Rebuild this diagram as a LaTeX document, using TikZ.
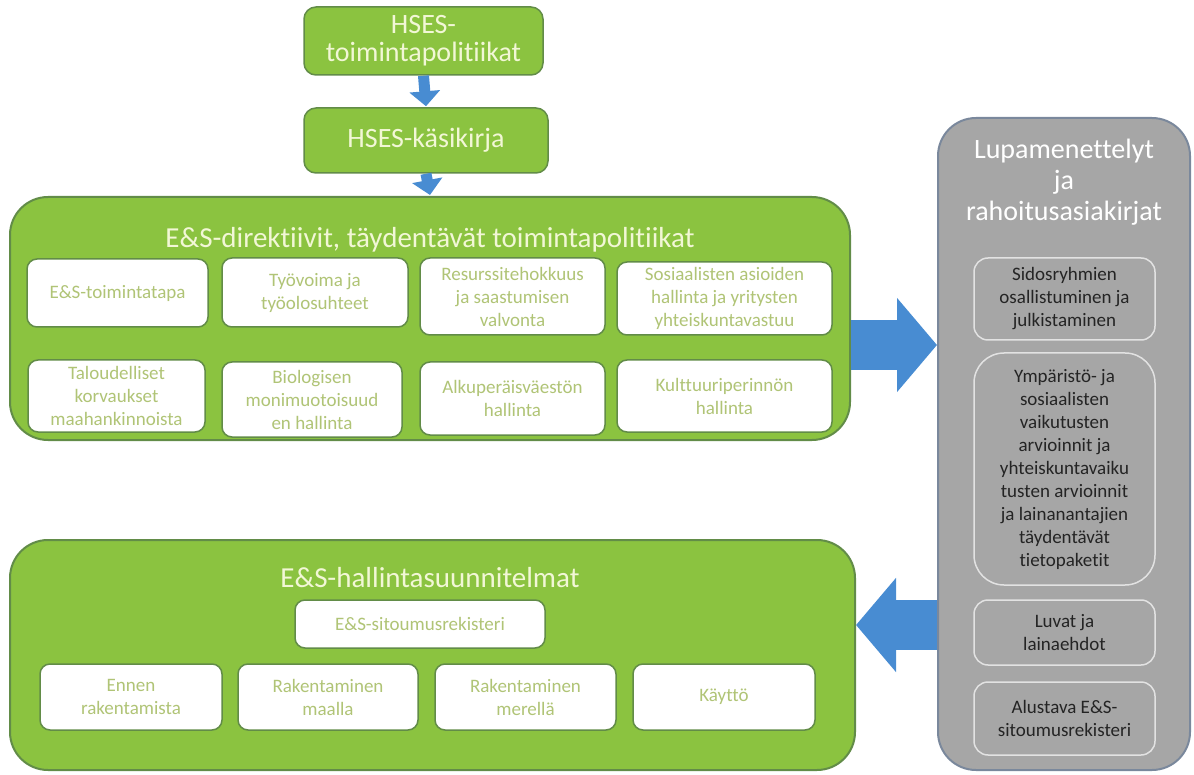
\documentclass[tikz,border=0pt]{standalone}
\usepackage{fontspec}
\setmainfont{Carlito}[Ligatures=NoCommon]
\usetikzlibrary{arrows.meta}
\definecolor{leaf}{RGB}{139,195,64}
\definecolor{leafedge}{RGB}{98,140,72}
\definecolor{cardtext}{RGB}{176,196,118}
\definecolor{titletext}{RGB}{242,247,214}
\definecolor{flow}{RGB}{72,140,210}
\definecolor{slate}{RGB}{166,166,166}
\definecolor{slateedge}{RGB}{122,136,156}
\definecolor{slateline}{RGB}{226,226,226}
\definecolor{slatetext}{RGB}{36,36,36}
\begin{document}
\begin{tikzpicture}[x=1pt,y=-1pt,
  headbox/.style={draw=leafedge, line width=1.5pt, fill=leaf, rounded corners=12pt,
    text=titletext, align=center, font=\fontsize{28}{28}\selectfont, inner sep=0pt},
  panel/.style={draw=leafedge, line width=2pt, fill=leaf, rounded corners=38pt, inner sep=0pt},
  paneltitle/.style={text=titletext, font=\fontsize{29}{30}\selectfont, inner sep=0pt},
  card/.style={draw=leafedge, line width=1.5pt, fill=white, rounded corners=10pt,
    text=cardtext, align=center, font=\fontsize{19}{23}\selectfont, inner sep=0pt},
  slatepanel/.style={draw=slateedge, line width=2pt, fill=slate, rounded corners=38pt, inner sep=0pt},
  slatetitle/.style={text=white, align=center, font=\fontsize{28}{31}\selectfont, inner sep=0pt},
  slatecard/.style={draw=slateline, line width=1.5pt, rounded corners=14pt,
    text=slatetext, align=center, font=\fontsize{19}{23}\selectfont, inner sep=0pt},
  smallflow/.style={draw=flow, line width=11pt, -{Triangle[length=15pt,width=30pt]}},
  bigflow/.style={draw=flow, line width=50pt, -{Triangle[length=40pt,width=92pt]}}
]
\useasboundingbox (0,0) rectangle (1194,775);

% top of the hierarchy
\node[headbox, minimum width=239pt, minimum height=68pt] (pol) at (423.5,41) {HSES-\\toimintapolitiikat};
\node[headbox, minimum width=244pt, minimum height=65pt] (man) at (426,140.5) {HSES-käsikirja};

% directives panel
\node[panel, minimum width=840pt, minimum height=243pt] (dir) at (430,318.5) {};
\node[paneltitle] (dirt) at (430,240) {E\&S-direktiivit, täydentävät toimintapolitiikat};
\node[card, minimum width=181pt, minimum height=68pt] (a1) at (117.5,293) {E\&S-toimintatapa};
\node[card, minimum width=186pt, minimum height=69pt] (a2) at (315,292.5) {Työvoima ja\\työolosuhteet};
\node[card, minimum width=185pt, minimum height=77pt] (a3) at (512.5,296.5) {Resurssitehokkuus\\ja saastumisen\\valvonta};
\node[card, minimum width=215pt, minimum height=73pt] (a4) at (724.5,298.5) {Sosiaalisten asioiden\\hallinta ja yritysten\\yhteiskuntavastuu};
\node[card, minimum width=177pt, minimum height=72pt] (b1) at (116.5,396) {Taloudelliset\\korvaukset\\maahankinnoista};
\node[card, minimum width=180pt, minimum height=75pt] (b2) at (312,399.5) {Biologisen\\monimuotoisuud\\en hallinta};
\node[card, minimum width=185pt, minimum height=73pt] (b3) at (512.5,398.5) {Alkuperäisväestön\\hallinta};
\node[card, minimum width=215pt, minimum height=72pt] (b4) at (724.5,396) {Kulttuuriperinnön\\hallinta};

% management plans panel
\node[panel, minimum width=845pt, minimum height=230pt] (plan) at (432.5,655) {};
\node[paneltitle] (plant) at (430,578) {E\&S-hallintasuunnitelmat};
\node[card, minimum width=250pt, minimum height=48pt] (reg) at (420,624) {E\&S-sitoumusrekisteri};
\node[card, minimum width=182pt, minimum height=66pt] (c1) at (131,697) {Ennen\\rakentamista};
\node[card, minimum width=180pt, minimum height=66pt] (c2) at (328,697) {Rakentaminen\\maalla};
\node[card, minimum width=181pt, minimum height=66pt] (c3) at (525.5,697) {Rakentaminen\\merellä};
\node[card, minimum width=182pt, minimum height=66pt] (c4) at (724,697) {Käyttö};

% permits and financing panel
\node[slatepanel, minimum width=252pt, minimum height=652pt] (per) at (1064,444) {};
\node[slatetitle] (pert) at (1064,182) {Lupamenettelyt\\ja\\rahoitusasiakirjat};
\node[slatecard, minimum width=181pt, minimum height=82pt] (d1) at (1064.5,299) {Sidosryhmien\\osallistuminen ja\\julkistaminen};
\node[slatecard, minimum width=181pt, minimum height=232pt, rounded corners=30pt] (d2) at (1064.5,469) {Ympäristö- ja\\sosiaalisten\\vaikutusten\\arvioinnit ja\\yhteiskuntavaiku\\tusten arvioinnit\\ja lainanantajien\\täydentävät\\tietopaketit};
\node[slatecard, minimum width=181pt, minimum height=65pt] (d3) at (1064.5,632.5) {Luvat ja\\lainaehdot};
\node[slatecard, minimum width=181pt, minimum height=73pt] (d4) at (1064.5,718.5) {Alustava E\&S-\\sitoumusrekisteri};

% flow arrows
\draw[smallflow] (pol.south) -- ([yshift=1pt]man.north);
\draw[smallflow] (man.south) -- ([yshift=1pt]dir.north);
\draw[bigflow] (dir.east |- 0,345) -- (per.west |- 0,345);
\draw[bigflow] (per.west |- 0,625) -- (plan.east |- 0,625);
\end{tikzpicture}
\end{document}
